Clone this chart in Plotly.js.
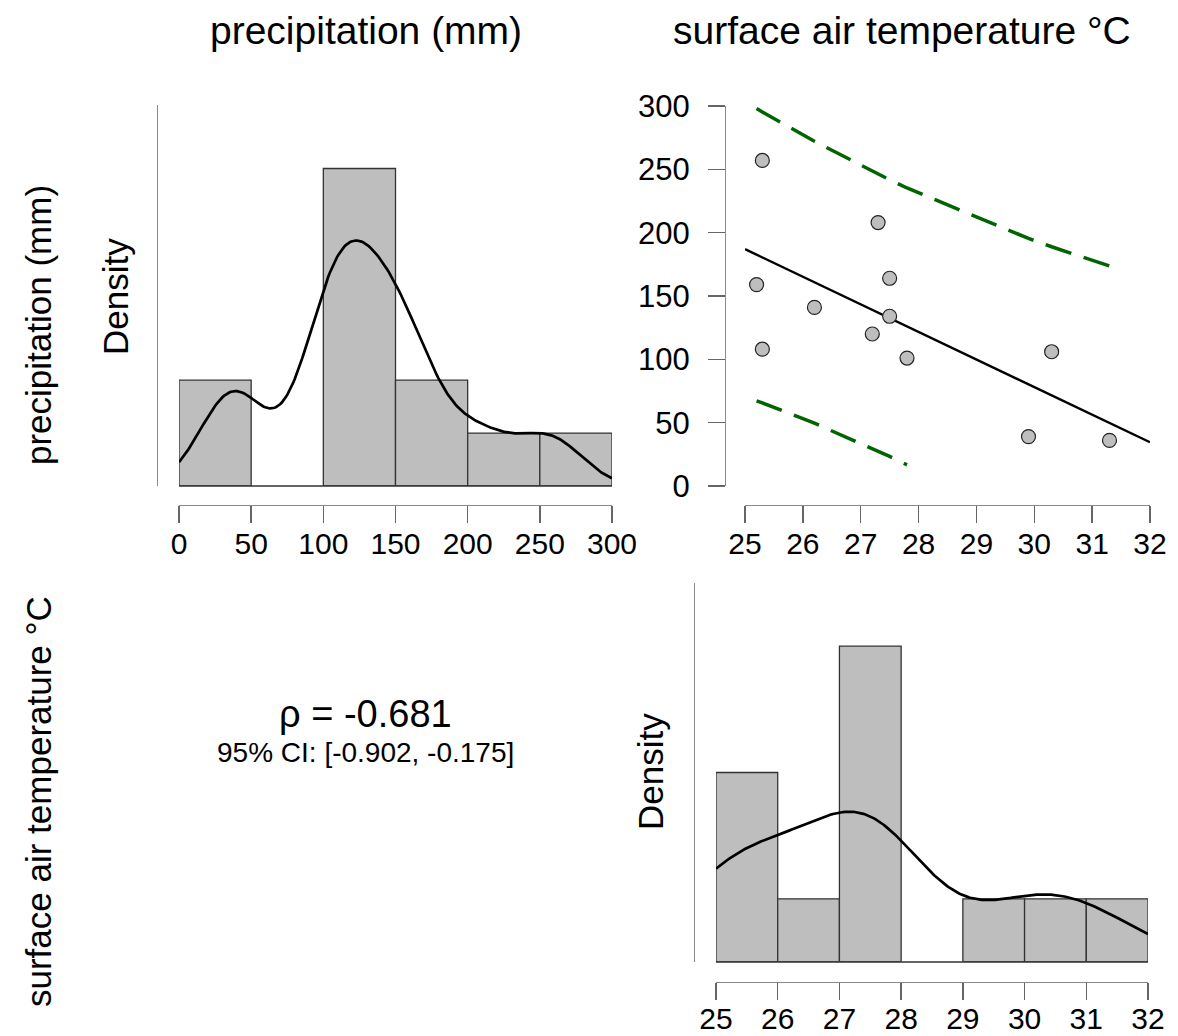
<!DOCTYPE html>
<html><head><meta charset="utf-8">
<script src="https://cdn.plot.ly/plotly-3.0.1.min.js"></script>
<style>html,body{margin:0;padding:0;background:#fff}#chart{width:1178px;height:1036px}</style>
</head><body><div id="chart"></div>
<script>
// ---- data ----
const precipitation = [257, 208, 159, 164, 141, 134, 120, 108, 101, 106, 39, 36];
const temperature   = [25.3, 27.3, 25.2, 27.5, 26.2, 27.5, 27.2, 25.3, 27.8, 30.3, 29.9, 31.3];
const precipTicks   = [0, 50, 100, 150, 200, 250, 300];
const tempTicks     = [25, 26, 27, 28, 29, 30, 31, 32];
const scatterYTicks = [0, 50, 100, 150, 200, 250, 300];
const varNames      = ["precipitation (mm)", "surface air temperature °C"];
const densityLabel  = "Density";
const rhoText       = "ρ = -0.681";
const ciText        = "95% CI: [-0.902, -0.175]";
const tCrit         = 2.228; // t(0.975, df = n - 2 = 10)

// ---- helpers ----
const mean = a => a.reduce((s, v) => s + v, 0) / a.length;
const sd = a => { const m = mean(a); return Math.sqrt(a.reduce((s, v) => s + (v - m) ** 2, 0) / (a.length - 1)); };
const quant = (a, p) => { const s = [...a].sort((u, v) => u - v); const h = (s.length - 1) * p; const lo = Math.floor(h); return s[lo] + (h - lo) * ((s[lo + 1] ?? s[lo]) - s[lo]); };
const bwNrd0 = a => 0.9 * Math.min(sd(a), (quant(a, 0.75) - quant(a, 0.25)) / 1.34) * Math.pow(a.length, -0.2);
function kde(a, from, to, npts) {
  const h = bwNrd0(a), xs = [], ys = [];
  for (let i = 0; i < npts; i++) {
    const x = from + (to - from) * i / (npts - 1);
    let s = 0; for (const v of a) { const z = (x - v) / h; s += Math.exp(-0.5 * z * z); }
    xs.push(x); ys.push(s / (a.length * h * Math.sqrt(2 * Math.PI)));
  }
  return { xs, ys };
}
function histMaxDensity(a, ticks) {
  const w = ticks[1] - ticks[0]; let mx = 0;
  for (let i = 0; i < ticks.length - 1; i++) {
    const c = a.filter(v => v >= ticks[i] && v < ticks[i + 1]).length;
    mx = Math.max(mx, c / (a.length * w));
  }
  return mx;
}

// ---- derived statistics ----
const n = temperature.length;
const mx = mean(temperature), my = mean(precipitation);
let sxx = 0, sxy = 0;
for (let i = 0; i < n; i++) { sxx += (temperature[i] - mx) ** 2; sxy += (temperature[i] - mx) * (precipitation[i] - my); }
const slope = sxy / sxx, icpt = my - slope * mx;
let sse = 0; for (let i = 0; i < n; i++) sse += (precipitation[i] - (icpt + slope * temperature[i])) ** 2;
const sres = Math.sqrt(sse / (n - 2));
const fitX = [tempTicks[0], tempTicks[tempTicks.length - 1]];
const fitY = fitX.map(x => icpt + slope * x);
const yLo = scatterYTicks[0], yHi = scatterYTicks[scatterYTicks.length - 1];
// prediction interval evaluated at the observed temperatures, dropped outside the axis range
const piX = [...temperature].sort((a, b) => a - b);
const piUp = [], piLo = [];
for (const x of piX) {
  const hw = tCrit * sres * Math.sqrt(1 + 1 / n + (x - mx) ** 2 / sxx);
  const f = icpt + slope * x;
  piUp.push(f + hw <= yHi && f + hw >= yLo ? f + hw : null);
  piLo.push(f - hw >= yLo && f - hw <= yHi ? f - hw : null);
}
const kdeP = kde(precipitation, precipTicks[0], precipTicks[precipTicks.length - 1], 300);
const kdeT = kde(temperature, tempTicks[0], tempTicks[tempTicks.length - 1], 300);
const yMax1 = 1.2 * histMaxDensity(precipitation, precipTicks);
const yMax3 = 1.2 * histMaxDensity(temperature, tempTicks);

// ---- traces ----
const barStyle = { color: '#bebebe', line: { color: '#333333', width: 1.3 } };
const traces = [
  { type: 'histogram', x: precipitation, xaxis: 'x', yaxis: 'y', histnorm: 'probability density',
    xbins: { start: precipTicks[0], end: precipTicks[precipTicks.length - 1], size: precipTicks[1] - precipTicks[0] },
    marker: barStyle, hoverinfo: 'skip' },
  { type: 'scatter', mode: 'lines', x: kdeP.xs, y: kdeP.ys, xaxis: 'x', yaxis: 'y',
    line: { color: '#000', width: 2.7 }, hoverinfo: 'skip' },

  { type: 'scatter', mode: 'lines', x: piX, y: piUp, xaxis: 'x2', yaxis: 'y2', connectgaps: false,
    line: { color: '#006400', width: 3.5, dash: '27px,13px' }, hoverinfo: 'skip' },
  { type: 'scatter', mode: 'lines', x: piX, y: piLo, xaxis: 'x2', yaxis: 'y2', connectgaps: false,
    line: { color: '#006400', width: 3.5, dash: '27px,13px' }, hoverinfo: 'skip' },
  { type: 'scatter', mode: 'lines', x: fitX, y: fitY, xaxis: 'x2', yaxis: 'y2',
    line: { color: '#000', width: 2.4 }, hoverinfo: 'skip' },
  { type: 'scatter', mode: 'markers', x: temperature, y: precipitation, xaxis: 'x2', yaxis: 'y2', cliponaxis: false,
    marker: { color: '#bebebe', size: 14, line: { color: '#222', width: 1.2 } } },

  { type: 'histogram', x: temperature, xaxis: 'x3', yaxis: 'y3', histnorm: 'probability density',
    xbins: { start: tempTicks[0], end: tempTicks[tempTicks.length - 1], size: tempTicks[1] - tempTicks[0] },
    marker: barStyle, hoverinfo: 'skip' },
  { type: 'scatter', mode: 'lines', x: kdeT.xs, y: kdeT.ys, xaxis: 'x3', yaxis: 'y3',
    line: { color: '#000', width: 2.7 }, hoverinfo: 'skip' }
];

// ---- layout ----
const W = 1178, H = 1036;
const fx = p => p / W, fy = p => 1 - p / H;
const base = { showgrid: false, zeroline: false, showline: true, linecolor: '#8a8a8a', linewidth: 1.4, fixedrange: true };
const tickStyle = { ticks: 'outside', ticklen: 17, tickcolor: '#666', tickwidth: 1.4, tickmode: 'array', tickfont: { size: 30, color: '#000' } };
const fontFam = 'Liberation Sans, Arial, Helvetica, sans-serif';
const ann = (text, x, y, size, angle) => ({ text, x: fx(x), y: fy(y), xref: 'paper', yref: 'paper', showarrow: false,
  xanchor: 'center', yanchor: 'middle', textangle: angle || 0, font: { size, color: '#000', family: fontFam } });

const yDom1 = [fy(486), fy(105)], yDom3 = [fy(962), fy(583)];
// histogram baseline (visible under empty bins), in x data units and at the bottom of the y domain
const baseline = (xr, ticks, yPaper) => ({ type: 'line', xref: xr, yref: 'paper', x0: ticks[0], x1: ticks[ticks.length - 1],
  y0: yPaper, y1: yPaper, line: { color: '#333333', width: 1.3 } });

const layout = {
  width: W, height: H, margin: { l: 0, r: 0, t: 0, b: 0 }, paper_bgcolor: '#fff', plot_bgcolor: 'rgba(0,0,0,0)',
  showlegend: false, bargap: 0, font: { family: fontFam, color: '#000', size: 30 },
  xaxis:  { ...base, ...tickStyle, tickvals: precipTicks, ticklabelstandoff: -5, domain: [fx(179), fx(612)], range: [precipTicks[0], precipTicks[precipTicks.length - 1]], anchor: 'free', position: fy(505) },
  yaxis:  { ...base, domain: yDom1, range: [0, yMax1], anchor: 'free', position: fx(157), showticklabels: false, ticks: '' },
  xaxis2: { ...base, ...tickStyle, tickvals: tempTicks, ticklabelstandoff: -5, domain: [fx(745), fx(1150)], range: [tempTicks[0], tempTicks[tempTicks.length - 1]], anchor: 'free', position: fy(505) },
  yaxis2: { ...base, ...tickStyle, tickfont: { size: 31, color: '#000' }, ticklabelstandoff: 12, tickvals: scatterYTicks, domain: [fy(486), fy(106)], range: [yLo, yHi], anchor: 'free', position: fx(725), side: 'left' },
  xaxis3: { ...base, ...tickStyle, tickvals: tempTicks, ticklabelstandoff: -7, domain: [fx(716), fx(1148)], range: [tempTicks[0], tempTicks[tempTicks.length - 1]], anchor: 'free', position: fy(982) },
  yaxis3: { ...base, domain: yDom3, range: [0, yMax3], anchor: 'free', position: fx(694), showticklabels: false, ticks: '' },
  shapes: [baseline('x', precipTicks, yDom1[0]), baseline('x3', tempTicks, yDom3[0])],
  annotations: [
    ann(varNames[0], 366, 30, 39),
    ann(varNames[1], 902, 30, 39),
    ann(varNames[0], 38, 325, 35, -90),
    ann(varNames[1], 38, 802, 35, -90),
    ann(densityLabel, 115, 297, 35, -90),
    ann(densityLabel, 650, 772, 35, -90),
    ann(rhoText, 365, 714, 38),
    ann(ciText, 365, 752, 28)
  ]
};

Plotly.newPlot('chart', traces, layout, { staticPlot: true, displayModeBar: false });
</script>
</body></html>
